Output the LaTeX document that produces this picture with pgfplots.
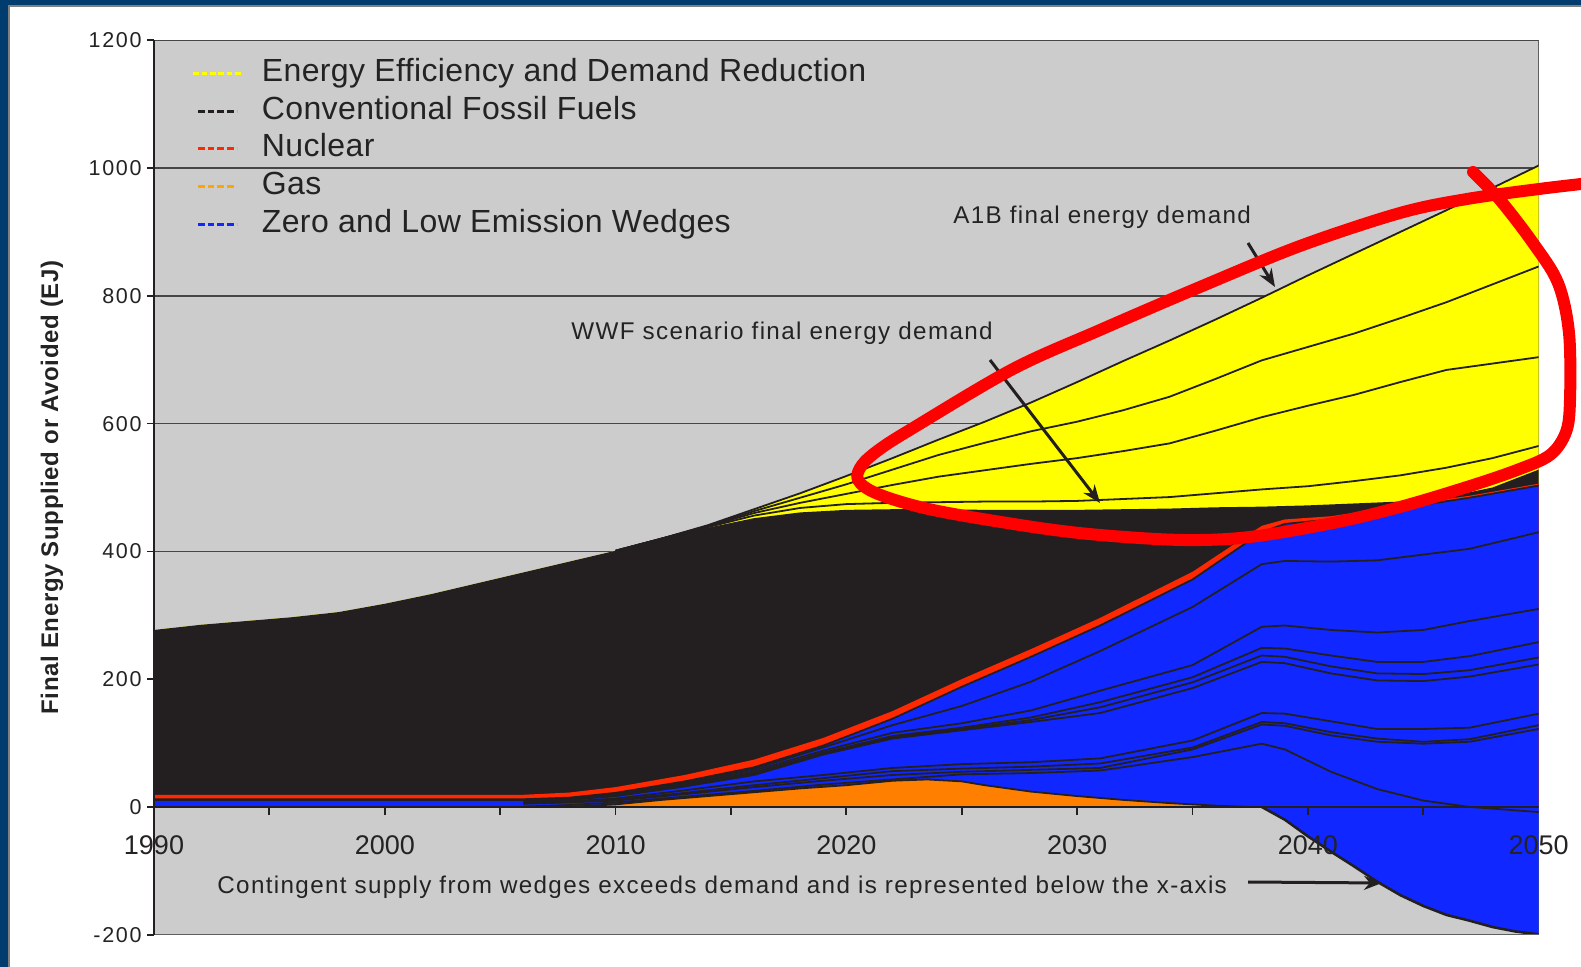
\documentclass[border=0pt]{standalone}
\usepackage{pgfplots}
\pgfplotsset{compat=1.18}
\usepackage{pgfplotstable}
\usepackage{fontspec}
\setmainfont{Liberation Sans}
\newfontfamily\legfont[LetterSpace=1.2]{Liberation Sans}
\newfontfamily\annofont[LetterSpace=5.6]{Liberation Sans}
\newfontfamily\ytickfont[LetterSpace=8]{Liberation Sans}
\newfontfamily\ylabfont[LetterSpace=2.5]{Liberation Sans}
\usetikzlibrary{arrows.meta}

\definecolor{frameblue}{RGB}{0,60,110}
\definecolor{bggray}{RGB}{204,204,204}
\definecolor{gridgray}{RGB}{70,70,70}
\definecolor{eeyellow}{RGB}{255,255,0}
\definecolor{fossil}{RGB}{35,31,32}
\definecolor{nucred}{RGB}{255,40,0}
\definecolor{wblue}{RGB}{16,40,255}
\definecolor{gasorange}{RGB}{255,128,0}
\definecolor{legorange}{RGB}{255,165,0}
\definecolor{lineblack}{RGB}{35,31,32}
\definecolor{txt}{RGB}{35,35,35}
\definecolor{anno}{RGB}{255,0,0}

\pgfplotstableread{
year a1b y1 y2 y3 wwf
1990 277 277 277 277 277
1992 285 285 285 285 285
1994 291 291 291 291 291
1996 297 297 297 297 297
1998 305 305 305 305 305
2000 318 318 318 318 318
2002 333 333 333 333 333
2004 350 350 350 350 350
2006 367 367 367 367 367
2008 384 384 384 384 384
2010 401 401 401 401 401
2012 420 420 420 420 420
2014 441 440 439 438 437
2016 466 463 460 456 452
2018 491 484 476 468 461
2020 518 505 490 474 465
2022 546 528 504 476 466
2024 575 551 517 477 466
2026 603 570 527 478 465
2028 633 588 537 478 465
2030 665 603 546 479 465
2032 698 621 557 482 466
2034 730 642 569 485 467
2036 763 670 589 491 469
2038 797 699 610 497 470
2040 832 720 628 502 472
2042 866 741 645 510 475
2044 900 765 665 519 478
2046 934 790 684 531 485
2048 969 818 694 546 500
2050 1004 846 704 565 528
}\demand

\pgfplotstableread{
year red top b1 b2 b3 b4 b5 b6 b7 b8 a
1990 19 12 11 10.5 10.3 10.2 10 8 6 5 0.5
2006 19 12 11 10.5 10.3 10.2 10 8 6 5 0.5
2008 22.5 14.5 13 12.5 12 11.8 11.5 9 8 7 3
2010 31 22 20 19 18 17.5 17 13 11 10 7
2013 50 40 38 36 34 33 32 26 22 20 16
2016 74 62 60 57 54 52 50 40 34 31 25
2019 108 96 93 88 85 84 82 50 45 41 35
2022 150 138 128 116 111 109 107 61 56 50 43
2025 200 188 158 131 124 122 120 67 60 55 51
2028 247 235 196 151 140 136 133 70 63 58 53
2031 296 284 244 182 164 156 147 76 68 61 57
2035 368 356 313 222 203 195 186 104 93 90 78
2038 440 430 380 282 249 237 227 147 133 129 99
2039 450 443 385 284 248 235 225 146 131 127 90
2041 455 450 384 277 237 220 209 134 117 112 55
2043 466 462 386 273 227 209 198 122 107 102 28
2045 477 473 395 277 227 208 197 122 102 99 10
2047 487 484 404 291 236 214 204 124 106 102 0
2050 506 503 430 310 258 234 223 146 128 122 -8
}\supply

\pgfplotstableread{
year gas
1990 0
2008 0
2010 4
2012 11
2015 20
2018 29
2020 34
2022 41
2023.5 43
2025 40
2026 34
2028 24
2030 17
2032 11
2034 6
2036 2
2037.5 0
2050 0
}\gas

\pgfplotstableread{
year neg
2038 0
2039 -20
2040 -46
2041 -70
2042 -93
2043 -117
2044 -138
2045 -155
2046 -169
2047 -178
2048 -188
2049 -195
2050 -199.5
}\contingent

\pgfplotsset{
  bline/.style={lineblack, line width=0.9pt, mark=none, forget plot},
}

\begin{document}
\begin{tikzpicture}
\begin{scope}[x=0.5pt,y=-0.5pt]
  \fill[frameblue] (0,0) rectangle (1581,967);
  \fill[white] (8,5) rectangle (1581,967);
  \draw[gray, line width=0.8pt] (9,967) -- (9,6) -- (1581,6);
\end{scope}
\begin{axis}[
  axis on top,
  at={(77pt,-467.35pt)}, anchor=south west,
  scale only axis, width=692.35pt, height=447.2pt,
  xmin=1990, xmax=2050, ymin=-200, ymax=1200,
  axis background/.style={fill=bggray, draw=gray!75!black, line width=0.6pt},
  axis x line*=bottom, axis y line*=left,
  x axis line style={draw=gray!75!black, line width=0.6pt},
  y axis line style={draw=lineblack, line width=0.9pt},
  xtick={1990,2000,...,2050},
  xticklabels={1990,2000,2010,2020,2030,2040,2050},
  xtick align=inside,
  major x tick style={draw=none},
  xticklabel style={anchor=north, inner sep=0pt, yshift=49.85pt,
    font=\fontsize{13.5pt}{16pt}\selectfont, text=txt},
  ytick={-200,0,...,1200},
  yticklabels={-200,0,200,400,600,800,1000,1200},
  ytick align=outside,
  major y tick style={draw=lineblack, line width=0.8pt},
  major tick length=3.5pt,
  yticklabel style={anchor=east, inner sep=0pt, xshift=-2.5pt,
    font=\ytickfont\fontsize{10.75pt}{13pt}\selectfont, text=txt},
  ylabel={Final Energy Supplied or Avoided (EJ)},
  ylabel style={at={(axis description cs:-0.0737,0.5)}, anchor=center,
    font=\ylabfont\bfseries\fontsize{12pt}{14pt}\selectfont, text=txt},
  legend style={at={(axis description cs:0.0272,0.98)}, anchor=north west,
    draw=none, fill=none, inner sep=0pt, outer sep=0pt,
    row sep=3.95pt, column sep=8.6pt,
    nodes={inner sep=0pt, text height=11.5pt, text depth=3.5pt, text=txt,
      font=\legfont\fontsize{16pt}{19pt}\selectfont}},
  legend cell align=left,
]
% horizontal grid, drawn first so that the areas hide it
\pgfplotsinvokeforeach{200,400,...,1200}{
  \draw[gridgray, line width=0.8pt] (axis cs:1990,#1) -- (axis cs:2050,#1);}

\addlegendimage{legend image code/.code={
  \path[draw=none] (0pt,0pt) -- (25pt,0pt);
  \draw[eeyellow, line width=1.5pt, dash pattern=on 2.8pt off 1.4pt] (0pt,0pt) -- (25pt,0pt);}}
\addlegendentry{Energy Efficiency and Demand Reduction}
\addlegendimage{legend image code/.code={
  \path[draw=none] (0pt,0pt) -- (25pt,0pt);
  \draw[lineblack, line width=1.5pt, dash pattern=on 3.3pt off 1.5pt] (2.5pt,0pt) -- (21.7pt,0pt);}}
\addlegendentry{Conventional Fossil Fuels}
\addlegendimage{legend image code/.code={
  \path[draw=none] (0pt,0pt) -- (25pt,0pt);
  \draw[nucred, line width=1.5pt, dash pattern=on 3.3pt off 1.5pt] (2.5pt,0pt) -- (21.7pt,0pt);}}
\addlegendentry{Nuclear}
\addlegendimage{legend image code/.code={
  \path[draw=none] (0pt,0pt) -- (25pt,0pt);
  \draw[legorange, line width=1.5pt, dash pattern=on 3.3pt off 1.5pt] (2.5pt,0pt) -- (21.7pt,0pt);}}
\addlegendentry{Gas}
\addlegendimage{legend image code/.code={
  \path[draw=none] (0pt,0pt) -- (25pt,0pt);
  \draw[wblue, line width=1.5pt, dash pattern=on 3.3pt off 1.5pt] (2.5pt,0pt) -- (21.7pt,0pt);}}
\addlegendentry{Zero and Low Emission Wedges}

% filled layers (painted from the top of the stack down)
\addplot[fill=eeyellow, draw=none, mark=none, forget plot] table[x=year, y=a1b] {\demand} \closedcycle;
\addplot[fill=fossil, draw=none, mark=none, forget plot] table[x=year, y=wwf] {\demand} \closedcycle;
\addplot[fill=nucred, draw=none, mark=none, forget plot] table[x=year, y=red] {\supply} \closedcycle;
\addplot[fill=wblue, draw=none, mark=none, forget plot] table[x=year, y=top] {\supply} \closedcycle;
\addplot[fill=gasorange, draw=none, mark=none, forget plot] table[x=year, y=gas] {\gas} \closedcycle;
\addplot[fill=wblue, draw=none, mark=none, forget plot] table[x=year, y=neg] {\contingent} \closedcycle;

% boundary lines
\addplot[bline, restrict x to domain=2009:2050] table[x=year, y=a1b] {\demand};
\addplot[bline, restrict x to domain=2009:2050] table[x=year, y=y1] {\demand};
\addplot[bline, restrict x to domain=2009:2050] table[x=year, y=y2] {\demand};
\addplot[bline, restrict x to domain=2009:2050] table[x=year, y=y3] {\demand};
\addplot[bline] table[x=year, y=top] {\supply};
\addplot[bline] table[x=year, y=b1] {\supply};
\addplot[bline, restrict x to domain=2006:2050] table[x=year, y=b2] {\supply};
\addplot[bline, restrict x to domain=2006:2050] table[x=year, y=b3] {\supply};
\addplot[bline, restrict x to domain=2006:2050] table[x=year, y=b4] {\supply};
\addplot[bline, restrict x to domain=2006:2050] table[x=year, y=b5] {\supply};
\addplot[bline, restrict x to domain=2006:2050] table[x=year, y=b6] {\supply};
\addplot[bline, restrict x to domain=2006:2050] table[x=year, y=b7] {\supply};
\addplot[bline, restrict x to domain=2006:2050] table[x=year, y=b8] {\supply};
\addplot[bline, restrict x to domain=2006:2050] table[x=year, y=a] {\supply};
\addplot[bline, restrict x to domain=2008:2038] table[x=year, y=gas] {\gas};
\addplot[bline, line width=1.3pt] table[x=year, y=neg] {\contingent};

% x axis at zero, drawn over the areas
\draw[lineblack, line width=0.9pt] (axis cs:1990,0) -- (axis cs:2050,0);
\pgfplotsinvokeforeach{1995,2000,...,2045}{
  \draw[lineblack, line width=0.9pt] (axis cs:#1,0) -- ++(0pt,-4pt);}
\end{axis}

\begin{scope}[x=0.5pt,y=-0.5pt]
  \node[anchor=base west, inner sep=0pt, text=txt,
    font=\annofont\fontsize{12.1pt}{14pt}\selectfont] at (953,224) {A1B final energy demand};
  \node[anchor=base west, inner sep=0pt, text=txt,
    font=\annofont\fontsize{12.1pt}{14pt}\selectfont] at (571,340) {WWF scenario final energy demand};
  \node[anchor=base west, inner sep=0pt, text=txt,
    font=\annofont\fontsize{12.1pt}{14pt}\selectfont] at (217,893) {Contingent supply from wedges exceeds demand and is represented below the x-axis};
  \draw[lineblack, line width=1.5pt, -{Stealth[length=9pt,width=7pt]}] (1248,243) -- (1275,287);
  \draw[lineblack, line width=1.5pt, -{Stealth[length=9pt,width=7pt]}] (990,360) -- (1100,503);
  \draw[lineblack, line width=1.5pt, -{Stealth[length=9pt,width=7pt]}] (1248,882) -- (1382,883);
  \draw[anno, line width=6pt, line cap=round, line join=round]
    plot[smooth, tension=0.55] coordinates {
      (1473,172) (1500,200) (1533,243) (1558,283) (1569,333) (1570,400)
      (1566,432) (1550,455) (1517,470) (1467,487) (1400,507) (1333,523)
      (1250,537) (1183,540) (1100,535) (1033,527) (933,510) (878,494)
      (858,480) (862,465) (880,449) (913,428) (1013,369) (1100,330)
      (1200,287) (1300,246) (1400,213) (1467,199) (1539,189) (1590,183)};
  \pgfresetboundingbox
  \path[use as bounding box] (0,0) rectangle (1581,967);
\end{scope}
\end{tikzpicture}
\end{document}
